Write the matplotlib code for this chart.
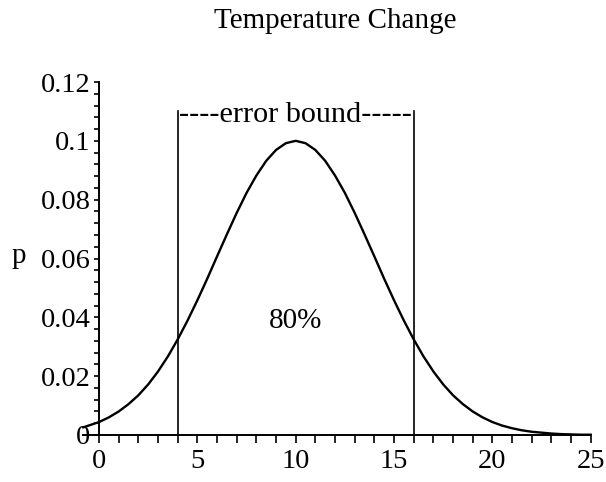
import matplotlib
matplotlib.use("Agg")
import matplotlib.pyplot as plt
from matplotlib.ticker import MultipleLocator, FixedLocator

# curve (x, p)
x = [-0.8, 0, 0.5, 1, 1.5, 2, 2.5, 3, 3.5, 4, 4.5, 5, 5.5, 6, 6.5, 7, 7.5, 8, 8.5, 9, 9.5,
     10, 10.5, 11, 11.5, 12, 12.5, 13, 13.5, 14, 14.5, 15, 15.5, 16, 16.5, 17, 17.5, 18,
     18.5, 19, 19.5, 20, 20.5, 21, 21.5, 22, 22.5, 23, 23.5, 24, 24.5, 25]
p = [0.0026, 0.0044, 0.0060, 0.0080, 0.0105, 0.0135, 0.0172, 0.0216, 0.0267, 0.0325,
     0.0389, 0.0458, 0.0531, 0.0607, 0.0682, 0.0755, 0.0823, 0.0882, 0.0932, 0.0969,
     0.0992, 0.1000, 0.0992, 0.0969, 0.0932, 0.0882, 0.0823, 0.0755, 0.0682, 0.0607,
     0.0531, 0.0458, 0.0389, 0.0325, 0.0267, 0.0216, 0.0172, 0.0135, 0.0105, 0.0080,
     0.0060, 0.0044, 0.0032, 0.0023, 0.0016, 0.0011, 0.0008, 0.0005, 0.0003, 0.0002,
     0.0001, 0.0001]

bound_lo, bound_hi = 4, 16
bound_top = 0.110
yticks = [0, 0.02, 0.04, 0.06, 0.08, 0.1, 0.12]
ylabels = ["0", "0.02", "0.04", "0.06", "0.08", "0.1", "0.12"]
xticks = [0, 5, 10, 15, 20, 25]

plt.rcParams["font.family"] = ["Liberation Serif", "DejaVu Serif"]

fig = plt.figure(figsize=(6.06, 4.82), dpi=100)
ax = fig.add_axes([83.3 / 606, 47 / 482, (590.7 - 83.3) / 606, (435 - 82) / 482])

ax.plot(x, p, color="black", lw=1.7, clip_on=False)
ax.plot([bound_lo, bound_lo], [0, bound_top], color="black", lw=1.2)
ax.plot([bound_hi, bound_hi], [0, bound_top], color="black", lw=1.2)
ax.text(10, 0.1065, "----error bound-----", ha="center", va="baseline", fontsize=21.8)
ax.text(10, 0.0364, "80%", ha="center", va="baseline", fontsize=21)

ax.set_xlim(-0.8, 25)
ax.set_ylim(0, 0.12)
ax.spines["left"].set_position(("data", 0))
ax.spines["top"].set_visible(False)
ax.spines["right"].set_visible(False)
for s in ("left", "bottom"):
    ax.spines[s].set_linewidth(1.4)

ax.xaxis.set_major_locator(FixedLocator(xticks))
ax.xaxis.set_minor_locator(MultipleLocator(1))
ax.set_yticks(yticks)
ax.set_yticklabels(ylabels)
ax.yaxis.set_minor_locator(MultipleLocator(0.004))
ax.tick_params(axis="x", which="both", direction="out", length=5.5, width=1.2, labelsize=20.5, pad=4.5)
ax.tick_params(axis="y", which="both", direction="out", length=3.6, width=1.2, labelsize=20.5, pad=2.5)

fig.text(335 / 606, 1 - 28 / 482, "Temperature Change", ha="center", va="baseline", fontsize=21)
fig.text(19 / 606, 1 - 263 / 482, "p", ha="center", va="baseline", fontsize=21)

fig.savefig("out.png", dpi=100)
